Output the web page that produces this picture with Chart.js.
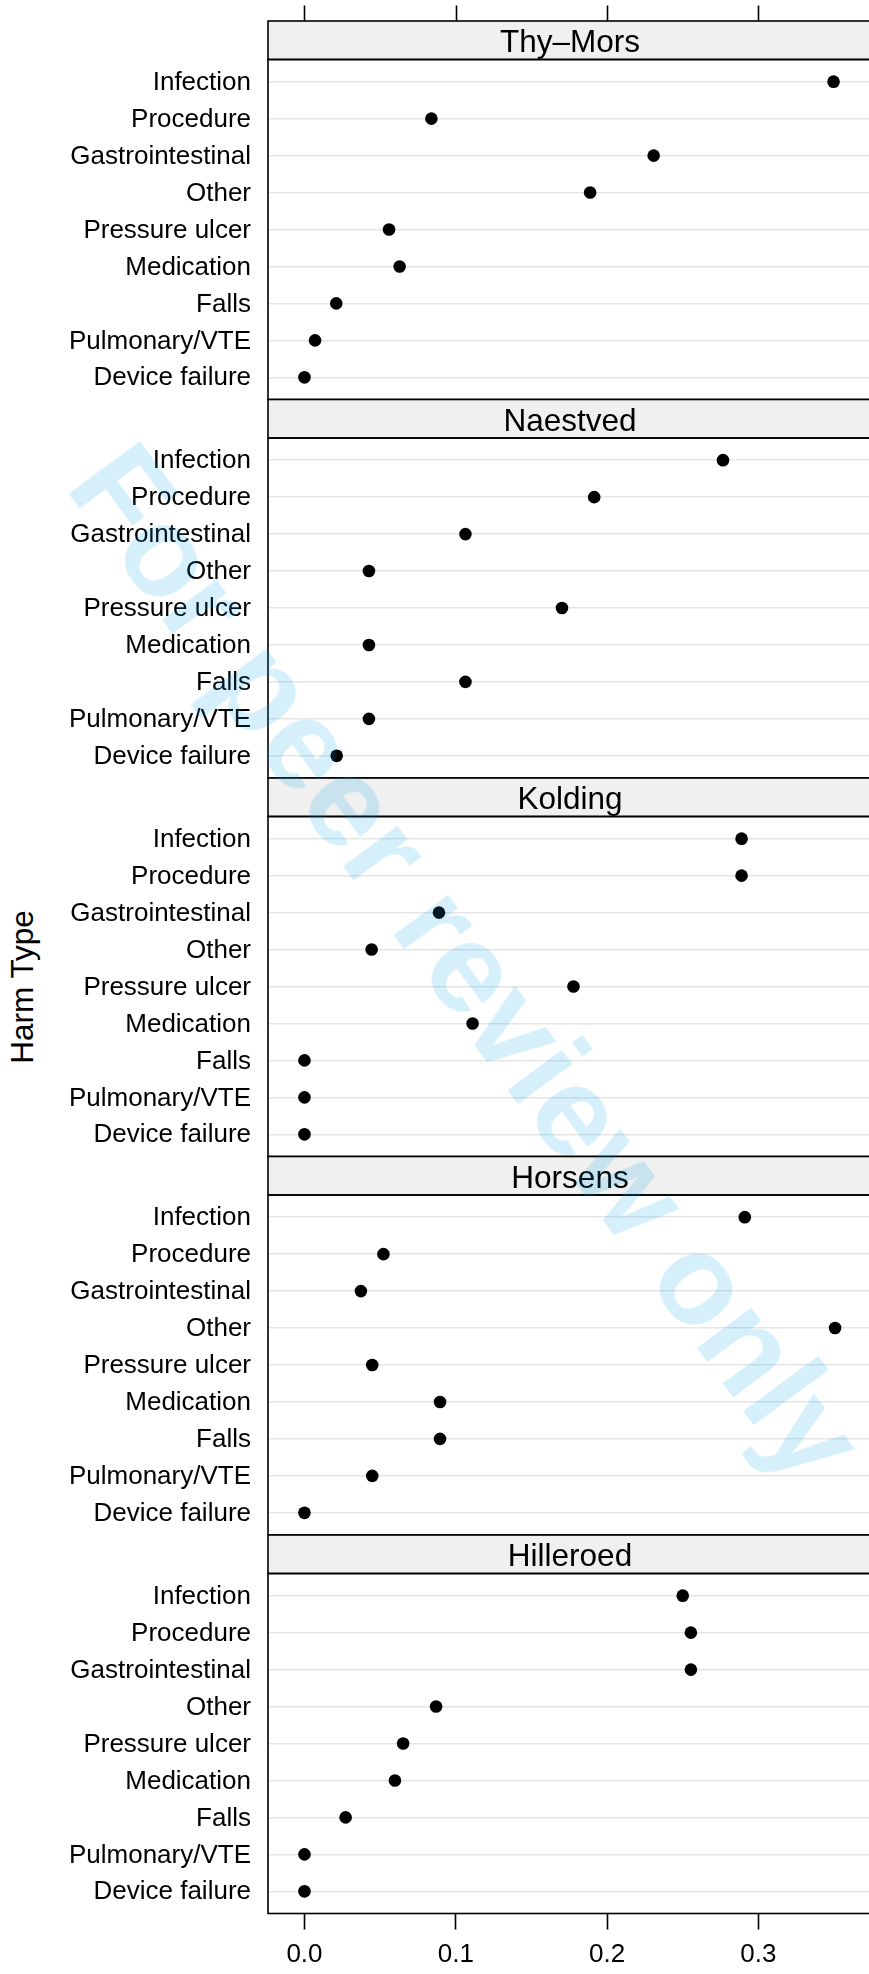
<!DOCTYPE html>
<html>
<head>
<meta charset="utf-8">
<title>Harm type rates by hospital</title>
<script src="https://cdn.jsdelivr.net/npm/chart.js@4.4.0/dist/chart.umd.min.js"></script>
<style>
  html, body { margin: 0; padding: 0; background: #ffffff; }
  #page { position: relative; width: 869px; height: 1974px; overflow: hidden; background: #ffffff; }
  #page canvas { position: absolute; left: 0; top: 0; }
  .ylab {
    position: absolute; left: 22.5px; top: 987px;
    font: 31.5px "Liberation Sans", Arial, Helvetica, sans-serif; line-height: 1;
    color: #000; white-space: nowrap;
    transform: translate(-50%, -50%) rotate(-90deg);
  }
  .stamp {
    position: absolute; left: 468px; top: 962px;
    font: bold 128px "Liberation Sans", Arial, Helvetica, sans-serif; line-height: 1;
    color: rgba(0, 160, 230, 0.16); white-space: nowrap; pointer-events: none;
    transform: translate(-50%, -50%) rotate(53.7deg); z-index: 10;
  }
</style>
</head>
<body>
<div id="page">
  <div class="ylab">Harm Type</div>
  <div class="stamp">For peer review only</div>
</div>
<script>
// Panels (top to bottom) and the harm categories (top to bottom within a panel)
const hospitals = ['Thy\u2013Mors', 'Naestved', 'Kolding', 'Horsens', 'Hilleroed'];
const harmTypes = ['Infection', 'Procedure', 'Gastrointestinal', 'Other', 'Pressure ulcer',
                   'Medication', 'Falls', 'Pulmonary/VTE', 'Device failure'];

// Share of harms of each type, per hospital (same order as harmTypes)
const thyMorsRate   = [0.3497, 0.0839, 0.2308, 0.1888, 0.0559, 0.0629, 0.0210, 0.0070, 0.0000];
const naestvedRate  = [0.2766, 0.1915, 0.1064, 0.0426, 0.1702, 0.0426, 0.1064, 0.0426, 0.0213];
const koldingRate   = [0.2889, 0.2889, 0.0889, 0.0444, 0.1778, 0.1111, 0.0000, 0.0000, 0.0000];
const horsensRate   = [0.2910, 0.0522, 0.0373, 0.3507, 0.0448, 0.0896, 0.0896, 0.0448, 0.0000];
const hilleroedRate = [0.2500, 0.2554, 0.2554, 0.0870, 0.0652, 0.0598, 0.0272, 0.0000, 0.0000];

const xTickValues = [0, 0.1, 0.2, 0.3];
const xTickLabels = ['0.0', '0.1', '0.2', '0.3'];

const ratesByHospital = [thyMorsRate, naestvedRate, koldingRate, horsensRate, hilleroedRate];

// Page geometry
const PAGE_H = 1974;
const CANVAS_W = 874;
const PLOT_LEFT = 268;
const PLOT_RIGHT = 872;
const FIRST_PLOT_TOP = 59.5;
const PANEL_PITCH = 378.5;
const PLOT_H = 340;
const STRIP_H = 38.5;
const X_AXIS_H = 62;
const X_MIN = -0.0241, X_MAX = 0.3751;
const FONT = '"Liberation Sans", Arial, Helvetica, sans-serif';

Chart.defaults.font.family = FONT;

// Strip with panel name, panel frame, and the top tick marks on the first panel
const panelDecor = {
  id: 'panelDecor',
  afterDraw(chart, args, opts) {
    const { ctx, chartArea: a } = chart;
    const xs = chart.scales.x;
    const sTop = a.top - STRIP_H;
    ctx.save();
    ctx.fillStyle = '#f0f0f0';
    ctx.fillRect(a.left, sTop, a.right - a.left, STRIP_H);
    ctx.strokeStyle = '#000';
    ctx.lineWidth = 1.6;
    ctx.strokeRect(a.left, sTop, a.right - a.left, STRIP_H);
    ctx.strokeRect(a.left, a.top, a.right - a.left, a.bottom - a.top);
    ctx.fillStyle = '#000';
    ctx.font = '31.5px ' + FONT;
    ctx.textAlign = 'center';
    ctx.textBaseline = 'alphabetic';
    ctx.fillText(opts.title, (a.left + a.right) / 2, a.top - 7.2);
    if (opts.topTicks) {
      ctx.beginPath();
      xTickValues.forEach(v => {
        const px = Math.round(xs.getPixelForValue(v)) + 0.5;
        ctx.moveTo(px, sTop - 15.5);
        ctx.lineTo(px, sTop);
      });
      ctx.stroke();
    }
    ctx.restore();
  }
};

const page = document.getElementById('page');

ratesByHospital.forEach((rates, i) => {
  const isLast = i === ratesByHospital.length - 1;
  const plotTop = FIRST_PLOT_TOP + PANEL_PITCH * i;
  const plotBottom = plotTop + PLOT_H;

  const canvas = document.createElement('canvas');
  canvas.width = CANVAS_W;
  canvas.height = PAGE_H;
  canvas.style.width = CANVAS_W + 'px';
  canvas.style.height = PAGE_H + 'px';
  page.appendChild(canvas);

  const xScale = {
    type: 'linear',
    min: X_MIN,
    max: X_MAX,
    display: isLast,
    position: 'bottom',
    afterBuildTicks: ax => { ax.ticks = xTickValues.map(v => ({ value: v })); },
    grid: { drawOnChartArea: false, drawTicks: true, tickLength: 16, tickWidth: 1.6, tickColor: '#000' },
    border: { display: false },
    ticks: {
      font: { size: 26 }, color: '#000', padding: 10, autoSkip: false, maxRotation: 0,
      callback: (v, idx) => xTickLabels[idx]
    }
  };
  if (isLast) xScale.afterFit = ax => { ax.height = X_AXIS_H; };

  new Chart(canvas, {
    type: 'scatter',
    data: {
      datasets: [{
        data: harmTypes.map((h, k) => ({ x: rates[k], y: k + 1 })),
        pointRadius: 6.3,
        pointHoverRadius: 6.3,
        pointBackgroundColor: '#000',
        pointBorderWidth: 0,
        showLine: false
      }]
    },
    options: {
      responsive: false,
      animation: false,
      devicePixelRatio: 1,
      events: [],
      layout: {
        autoPadding: false,
        padding: {
          top: plotTop,
          bottom: isLast ? PAGE_H - plotBottom - X_AXIS_H : PAGE_H - plotBottom,
          left: 0,
          right: CANVAS_W - PLOT_RIGHT
        }
      },
      plugins: {
        legend: { display: false },
        tooltip: { enabled: false },
        panelDecor: { title: hospitals[i], topTicks: i === 0 }
      },
      scales: {
        x: xScale,
        y: {
          type: 'linear',
          min: 0.4,
          max: 9.6,
          reverse: true,
          afterBuildTicks: ax => { ax.ticks = harmTypes.map((h, k) => ({ value: k + 1 })); },
          afterFit: ax => { ax.width = PLOT_LEFT; },
          grid: { color: '#e5e5e5', lineWidth: 1.6, drawTicks: false },
          border: { display: false },
          ticks: {
            font: { size: 26 }, color: '#000', padding: 17, autoSkip: false, labelOffset: 1,
            callback: (v, idx) => harmTypes[idx]
          }
        }
      }
    },
    plugins: [panelDecor]
  });
});
</script>
</body>
</html>
